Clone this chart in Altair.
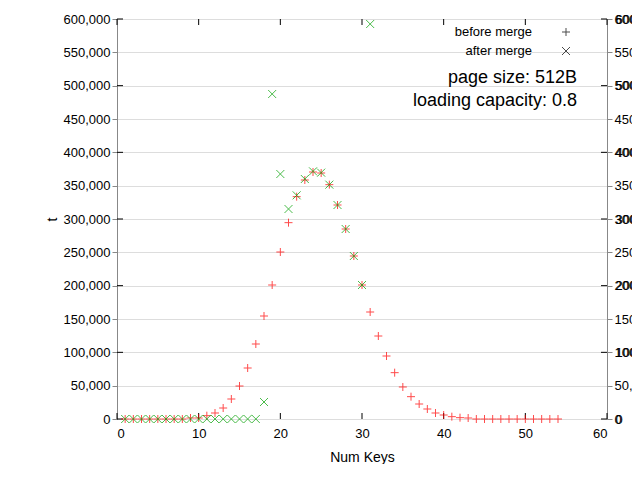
import altair as alt
import pandas as pd

keys_before = list(range(1, 55))
pages_before = [0, 0, 0, 0, 0, 0, 0, 0, 1500, 1500,
                5000, 9000, 16500, 30000, 49500, 76500, 112500, 154500, 201000, 250500,
                294500, 333500, 358500, 370500, 369000, 351500, 321000, 285000, 244500, 201000,
                160500, 124500, 94500, 69500, 48000, 33500, 22500, 15000, 9000, 6000,
                3500, 2000, 1500, 0, 0, 0, 0, 0, 0, 0,
                0, 0, 0, 0]
keys_after = list(range(1, 32))
pages_after = [0] * 17 + [25500, 487500, 367500, 315000, 335500, 360000, 371500, 369500,
                          351500, 321000, 285000, 244500, 201000, 592500]

x_ticks = [0, 10, 20, 30, 40, 50, 60]
y_ticks = [0, 100000, 200000, 300000, 400000, 500000, 600000]

PLUS = "M-1,0H1M0,-1V1"
CROSS = "M-1,-1L1,1M-1,1L1,-1"
FONT = "Liberation Sans"

df = pd.concat([
    pd.DataFrame({"keys": keys_before, "pages": pages_before, "series": "before merge"}),
    pd.DataFrame({"keys": keys_after, "pages": pages_after, "series": "after merge"}),
])

xs = alt.Scale(domain=[0, 60], nice=False)
ys = alt.Scale(domain=[0, 600000], nice=False)

points = alt.Chart(df).mark_point(filled=False, strokeWidth=1, size=64).encode(
    x=alt.X("keys:Q", scale=xs, title="Num Keys",
            axis=alt.Axis(values=x_ticks, ticks=False, grid=False, domain=False,
                          labelPadding=8, titlePadding=10)),
    y=alt.Y("pages:Q", scale=ys, title="Num Pages With Num Keys",
            axis=alt.Axis(values=y_ticks, ticks=False, grid=False, domain=False,
                          labelPadding=8, titlePadding=14, format="d")),
    shape=alt.Shape("series:N", scale=alt.Scale(domain=["before merge", "after merge"],
                                                range=[PLUS, CROSS]), legend=None),
    color=alt.Color("series:N", scale=alt.Scale(domain=["before merge", "after merge"],
                                                range=["#ff0000", "#00a000"]), legend=None),
)

xt = pd.DataFrame({"t": x_ticks})
yt = pd.DataFrame({"t": y_ticks})
tick_style = dict(color="black", strokeWidth=1)
ticks = [
    alt.Chart(xt).mark_rule(**tick_style).encode(x=alt.X("t:Q", scale=xs), y=alt.value(400), y2=alt.value(394)),
    alt.Chart(xt).mark_rule(**tick_style).encode(x=alt.X("t:Q", scale=xs), y=alt.value(0), y2=alt.value(6)),
    alt.Chart(yt).mark_rule(**tick_style).encode(y=alt.Y("t:Q", scale=ys), x=alt.value(0), x2=alt.value(6)),
    alt.Chart(yt).mark_rule(**tick_style).encode(y=alt.Y("t:Q", scale=ys), x=alt.value(484), x2=alt.value(490)),
]

legend_df = pd.DataFrame({"label": ["before merge", "after merge"], "row": [0, 1],
                          "shape": [PLUS, CROSS]})
legend_text = alt.Chart(legend_df).mark_text(align="right", baseline="middle", fontSize=13,
                                             font=FONT).encode(
    text="label:N", x=alt.value(415),
    y=alt.Y("py:Q", scale=None)).transform_calculate(py="datum.row * 19 + 13")
legend_sym = alt.Chart(legend_df).mark_point(filled=False, strokeWidth=1, size=64,
                                             color="black").encode(
    shape=alt.Shape("shape:N", scale=None), x=alt.value(449),
    y=alt.Y("py:Q", scale=None)).transform_calculate(py="datum.row * 19 + 13")

notes_df = pd.DataFrame({"note": ["page size: 512B", "loading capacity: 0.8"], "row": [0, 1]})
notes = alt.Chart(notes_df).mark_text(align="right", baseline="middle", fontSize=18,
                                      font=FONT).encode(
    text="note:N", x=alt.value(460),
    y=alt.Y("py:Q", scale=None)).transform_calculate(py="datum.row * 23 + 59")

chart = alt.layer(*ticks, points, legend_text, legend_sym, notes).resolve_scale(
    y="independent", shape="independent").properties(
    width=490, height=400, autosize="none",
    padding={"left": 109, "top": 11, "right": 25, "bottom": 45},
).configure_view(stroke="black", strokeWidth=1).configure_axis(
    labelFont=FONT, titleFont=FONT, labelFontSize=13, titleFontSize=14,
    titleFontWeight="normal", labelColor="black", titleColor="black")

chart.save("out.html", embed_options={"renderer": "svg", "actions": False})
